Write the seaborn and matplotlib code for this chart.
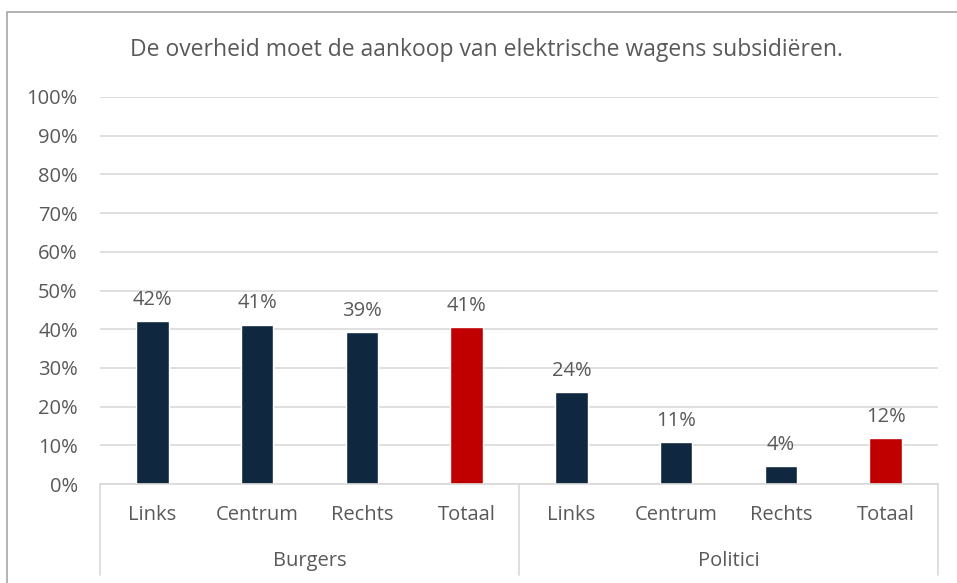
import pandas as pd
import matplotlib.pyplot as plt
import seaborn as sns
from matplotlib.patches import Rectangle

# --- data ---
groups = ["Burgers", "Politici"]
categories = ["Links", "Centrum", "Rechts", "Totaal"]
burgers_values = [0.422, 0.412, 0.393, 0.406]
politici_values = [0.238, 0.108, 0.046, 0.118]
value_labels = ["42%", "41%", "39%", "41%", "24%", "11%", "4%", "12%"]
title = "De overheid moet de aankoop van elektrische wagens subsidiëren."

navy = "#10283F"
red = "#C00000"
text_gray = "#595959"
grid_gray = "#D9D9D9"

# long table, one row per bar (unique key so duplicated category names stay apart)
rows = []
for g, vals in zip(groups, [burgers_values, politici_values]):
    for c, v in zip(categories, vals):
        rows.append({"key": f"{g} {c}", "group": g, "category": c, "value": v})
df = pd.DataFrame(rows)
bar_colors = [red if c == "Totaal" else navy for c in df["category"]]

sns.set_style("white")
plt.rcParams["font.family"] = ["Open Sans", "DejaVu Sans"]

fig = plt.figure(figsize=(9.57, 5.83), dpi=100)
ax = fig.add_axes([100 / 957, 1 - 484 / 583, 838 / 957, 387 / 583])

sns.barplot(data=df, x="key", y="value", hue="key", palette=bar_colors,
            width=0.31, legend=False, ax=ax, saturation=1)

ax.set_ylim(0, 1)
ax.set_xlim(-0.5, len(df) - 0.5)
ax.set_yticks([i / 10 for i in range(11)])
ax.set_yticklabels([f"{i * 10}%" for i in range(11)], color=text_gray, fontsize=14.5)
ax.set_xticks(range(len(df)))
ax.set_xticklabels(df["category"], color=text_gray, fontsize=14.5)
ax.tick_params(axis="both", length=0)
ax.tick_params(axis="x", pad=15)
ax.tick_params(axis="y", pad=16)
ax.set_xlabel("")
ax.set_ylabel("")
ax.grid(axis="y", color=grid_gray, linewidth=1.2)
ax.set_axisbelow(True)
for side in ["top", "right", "left"]:
    ax.spines[side].set_visible(False)
ax.spines["bottom"].set_color(grid_gray)
ax.spines["bottom"].set_linewidth(1.2)

# value labels above bars
for i, (v, lab) in enumerate(zip(df["value"], value_labels)):
    ax.annotate(lab, (i, v), xytext=(0, 8), textcoords="offset points",
                ha="center", va="bottom", color=text_gray, fontsize=14.5)

# group axis: separators and group names
trans = ax.get_xaxis_transform()
for x in [-0.5, 3.5, 7.5]:
    ax.plot([x, x], [0, -0.235], transform=trans, color=grid_gray,
            linewidth=1.2, clip_on=False)
for gi, g in enumerate(groups):
    ax.text(gi * 4 + 1.5, -0.198, g, transform=trans, ha="center", va="center",
            color=text_gray, fontsize=14.5)

fig.text(486 / 957, 1 - 50 / 583, title, ha="center", va="center",
         color=text_gray, fontsize=16.5)

# chart border
fig.add_artist(Rectangle((7 / 957, -0.05), 1.1, 1 - 12 / 583 + 0.05,
                         transform=fig.transFigure, fill=False,
                         edgecolor="#A6A6A6", linewidth=1.2))

fig.savefig("out.png", dpi=100, facecolor="white")
